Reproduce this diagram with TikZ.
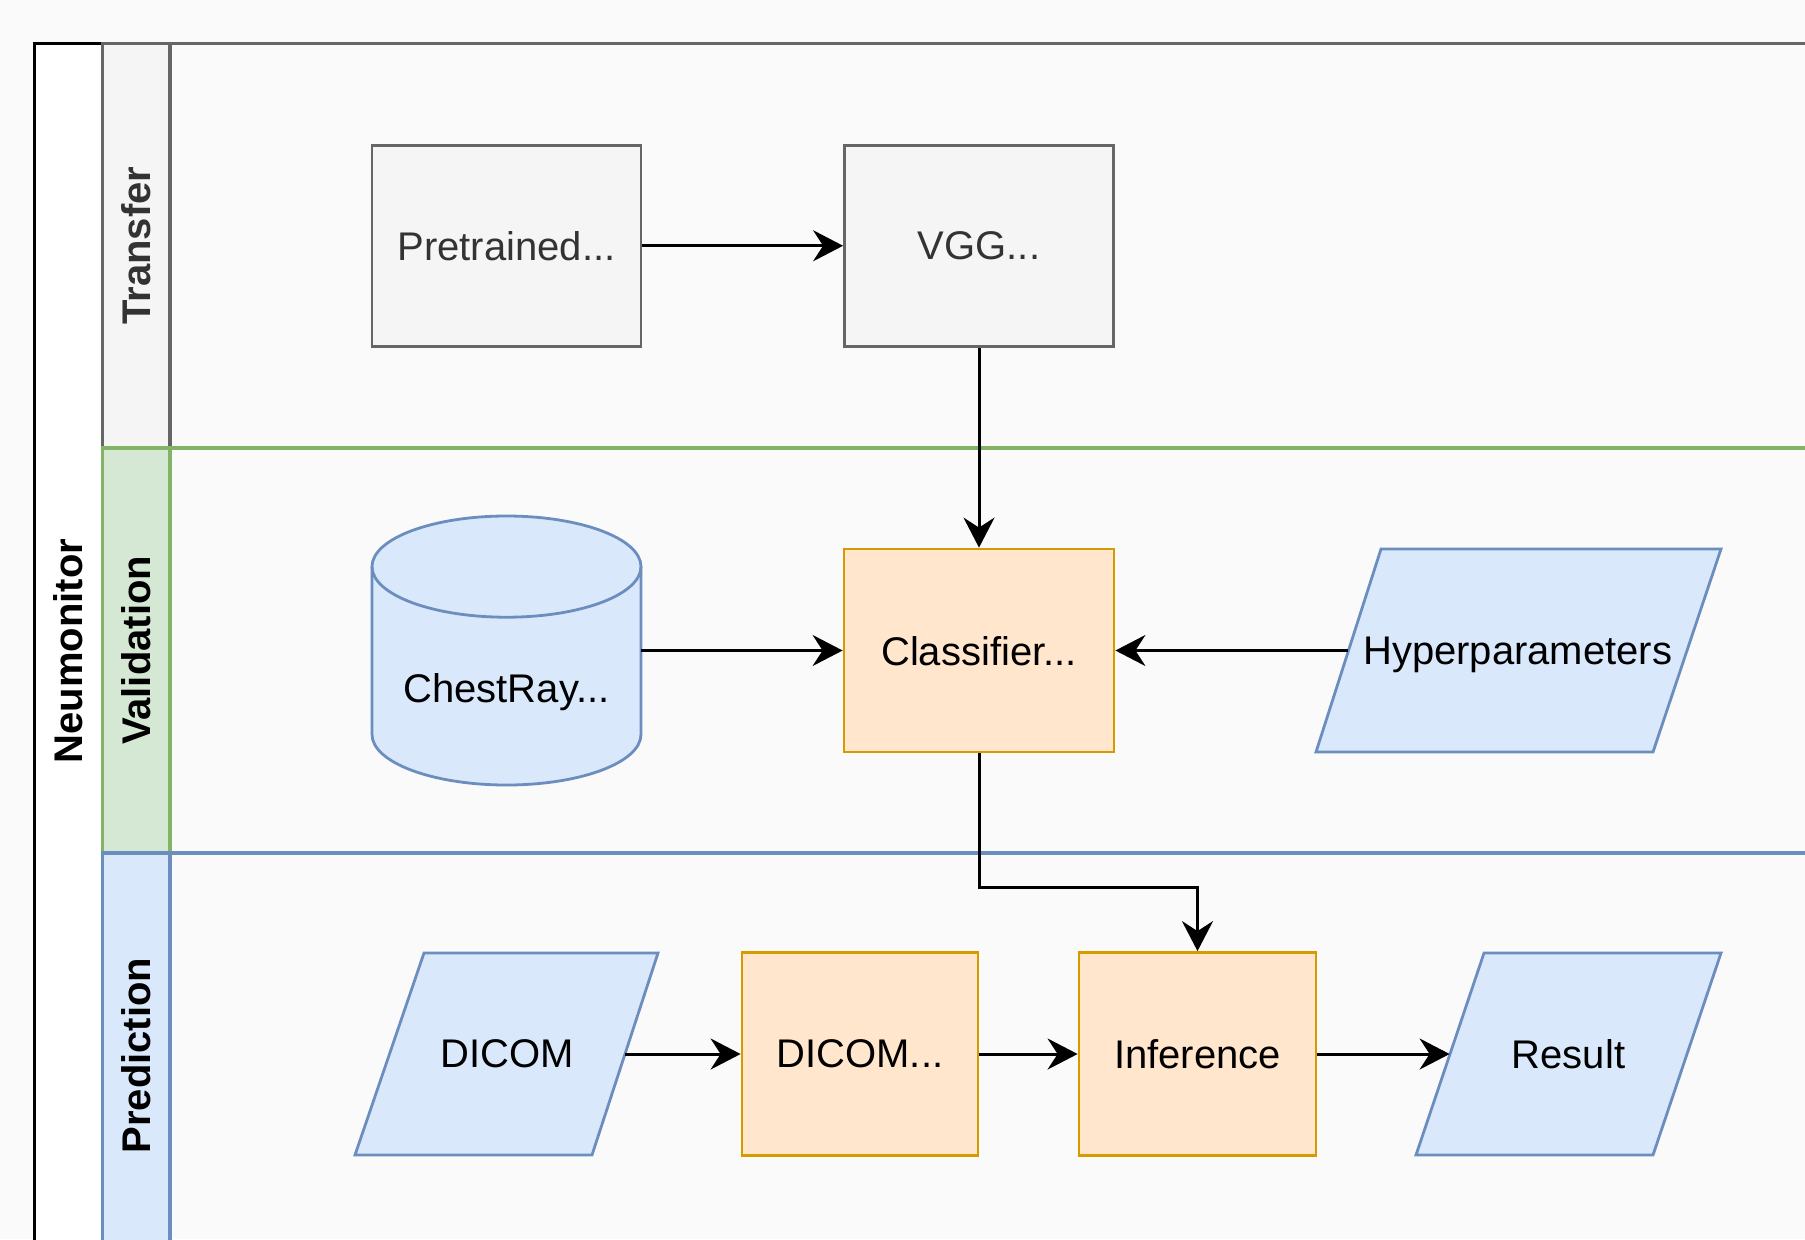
\documentclass[tikz,border=0pt]{standalone}
\usepackage{fontspec}
\setsansfont{Liberation Sans}
\usetikzlibrary{arrows.meta}
\definecolor{bggray}{HTML}{FAFAFA}
\definecolor{grayfill}{HTML}{F5F5F5}
\definecolor{graydraw}{HTML}{666666}
\definecolor{graytext}{HTML}{333333}
\definecolor{greenfill}{HTML}{D5E8D4}
\definecolor{greendraw}{HTML}{82B366}
\definecolor{bluefill}{HTML}{DAE8FC}
\definecolor{bluedraw}{HTML}{6C8EBF}
\definecolor{orangefill}{HTML}{FFE6CC}
\definecolor{orangedraw}{HTML}{D79B00}
\newcommand*{\diagfont}{\fontsize{20}{24}\selectfont\sffamily}
\newcommand*{\poolL }{34.5}
\newcommand*{\poolT }{43.7}
\newcommand*{\hdrR  }{102.5}
\newcommand*{\laneR }{170}
\newcommand*{\farR  }{1900}
\newcommand*{\laneA }{447.8}
\newcommand*{\laneB }{853}
\newcommand*{\laneC }{1258}

\begin{document}
\begin{tikzpicture}[x=0.5pt, y=0.5pt, font=\diagfont,
    lane/.style      = {line width=1.7pt},
    lanetitle/.style = {rotate=90, font=\diagfont\bfseries},
    greybox/.style   = {rectangle, draw=graydraw, fill=grayfill, text=graytext, line width=1.4pt,
                        text depth=0pt, minimum width=134.5pt, minimum height=100.5pt},
    procbox/.style   = {rectangle, draw=orangedraw, fill=orangefill, line width=1.4pt,
                        text depth=0pt, minimum width=135pt, minimum height=101.5pt},
    iobox/.style     = {rectangle, text depth=0pt, minimum height=101.5pt},
    ioshape/.style   = {draw=bluedraw, fill=bluefill, line width=1.4pt, line join=miter},
    dbbox/.style     = {rectangle, inner sep=0pt, minimum width=134.5pt, minimum height=134.5pt},
    dbshape/.style   = {draw=bluedraw, fill=bluefill, line width=1.4pt},
    flow/.style      = {-{Stealth[length=15pt, width=15.5pt, inset=5pt]}, line width=1.5pt}]
    \useasboundingbox (0,0) rectangle (1805,-1239);
    \clip (0,0) rectangle (1805,-1239);
    \fill [bggray] (0,0) rectangle (1805,-1239);

    % pool
    \draw [lane, black] (\poolL,-\poolT) rectangle (\farR,-1300);
    \filldraw [lane, fill=white, draw=black] (\poolL,-\poolT) rectangle (\hdrR,-1300);
    \node [lanetitle] (pool) at (68.5,-651) {Neumonitor};

    % lanes
    \draw     [lane, draw=graydraw] (\hdrR,-\poolT) rectangle (\farR,-\laneA);
    \filldraw [lane, draw=graydraw, fill=grayfill] (\hdrR,-\poolT) rectangle (\laneR,-\laneA);
    \node [lanetitle, text=graytext] (transfer) at (136.25,-245.75) {Transfer};
    \draw     [lane, draw=greendraw] (\hdrR,-\laneA) rectangle (\farR,-\laneB);
    \filldraw [lane, draw=greendraw, fill=greenfill] (\hdrR,-\laneA) rectangle (\laneR,-\laneB);
    \node [lanetitle] (validation) at (136.25,-650.4) {Validation};
    \draw     [lane, draw=bluedraw] (\hdrR,-\laneB) rectangle (\farR,-\laneC);
    \filldraw [lane, draw=bluedraw, fill=bluefill] (\hdrR,-\laneB) rectangle (\laneR,-\laneC);
    \node [lanetitle] (prediction) at (136.25,-1055.5) {Prediction};

    % database cylinder
    \filldraw [dbshape] (372,-566.6) -- (372,-734.4)
        arc [start angle=180, end angle=360, x radius=134.5, y radius=50.6] -- (641,-566.6)
        arc [start angle=0, end angle=180, x radius=134.5, y radius=50.6] -- cycle;
    \draw [dbshape, fill=none] (372,-566.6) arc [start angle=180, end angle=360, x radius=134.5, y radius=50.6];

    % parallelograms
    \filldraw [ioshape] (1381,-549) -- (1721,-549) -- (1653,-752) -- (1316,-752) -- cycle;
    \filldraw [ioshape] ( 424,-953) -- ( 658,-953) -- ( 592,-1155) -- ( 355,-1155) -- cycle;
    \filldraw [ioshape] (1484,-953) -- (1721,-953) -- (1653,-1155) -- (1416,-1155) -- cycle;

    % nodes
    \node [greybox] (pretrained) at ( 506.5,-245.75) {Pretrained...};
    \node [greybox] (vgg)        at ( 979  ,-245.75) {VGG...};
    \node [dbbox, label={[yshift=-18.75pt, text depth=0pt]center:ChestRay...}] (chestray) at (506.5,-650.5) {};
    \node [procbox] (classifier) at ( 979  ,-650.5) {Classifier...};
    \node [iobox, minimum width=169.25pt] (hyper)  at (1517.75,-650.5) {Hyperparameters};
    \node [iobox, minimum width=117.75pt] (dicom)  at ( 507.25,-1054) {DICOM};
    \node [procbox, minimum width=118pt]   (convert)   at ( 860  ,-1054) {DICOM...};
    \node [procbox, minimum width=118.5pt] (inference) at (1197.5,-1054) {Inference};
    \node [iobox, minimum width=118.5pt]  (result) at (1568.5 ,-1054) {Result};

    % connectors
    \draw [flow] (pretrained) -- (vgg);
    \draw [flow] (vgg) -- (classifier);
    \draw [flow] (chestray) -- (classifier);
    \draw [flow] (hyper) -- (classifier);
    \draw [flow] (classifier.south) -- ++(0,-134) -| (inference.north);
    \draw [flow] (dicom) -- (convert);
    \draw [flow] (convert) -- (inference);
    \draw [flow] (inference) -- (result);
\end{tikzpicture}
\end{document}
